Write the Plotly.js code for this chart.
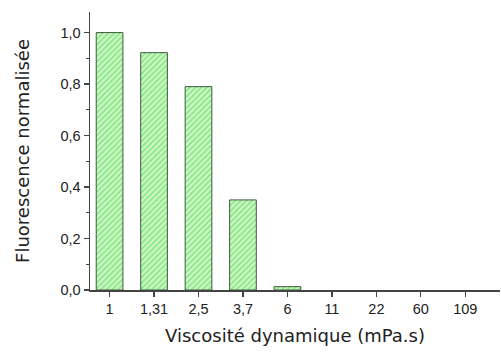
<!DOCTYPE html>
<html>
<head>
<meta charset="utf-8">
<script src="https://cdn.plot.ly/plotly-3.0.1.min.js"></script>
<style>html,body{margin:0;padding:0;background:#fff;}</style>
</head>
<body>
<div id="chart" style="width:501px;height:358px;"></div>
<script>
const categories = ["1", "1,31", "2,5", "3,7", "6", "11", "22", "60", "109"];
const fluorescence = [1.0, 0.922, 0.79, 0.35, 0.013, 0, 0, 0, 0];
const yTickVals = [0, 0.2, 0.4, 0.6, 0.8, 1.0];
const yTickText = ["0,0", "0,2", "0,4", "0,6", "0,8", "1,0"];

const trace = {
  type: "bar",
  x: categories,
  y: fluorescence,
  width: 0.6,
  marker: {
    color: "#c8f4bf",
    line: {color: "#3d5a3d", width: fluorescence.map(v => v > 0 ? 1 : 0)},
    pattern: {shape: "/", fgcolor: "#46d946", bgcolor: "#d4f8cc", size: 4, solidity: 0.5, fillmode: "overlay"}
  },
  hoverinfo: "skip"
};

const axisFont = {family: "Liberation Sans, Arial, sans-serif", size: 14.5, color: "#222"};
const titleFont = {family: "DejaVu Sans, Verdana, sans-serif", size: 18, color: "#222"};

const layout = {
  width: 501, height: 358,
  margin: {l: 90, r: 1, t: 12, b: 68},
  paper_bgcolor: "#fff", plot_bgcolor: "#fff",
  showlegend: false,
  xaxis: {
    type: "category",
    range: [-0.44, 8.78],
    showline: true, linecolor: "#444", linewidth: 1.5,
    ticks: "outside", ticklen: 5, tickcolor: "#444", tickwidth: 1.2,
    showgrid: false, zeroline: false,
    tickfont: axisFont,
    title: {text: "Viscosité dynamique (mPa.s)", font: titleFont, standoff: 13}
  },
  yaxis: {
    range: [0, 1.08],
    showline: true, linecolor: "#444", linewidth: 1.5,
    ticks: "outside", ticklen: 5, tickcolor: "#444", tickwidth: 1.2,
    tickvals: yTickVals, ticktext: yTickText,
    minor: {ticks: "outside", ticklen: 3, tickcolor: "#444", dtick: 0.1, tick0: 0},
    showgrid: false, zeroline: false,
    tickfont: axisFont,
    title: {text: "Fluorescence normalisée", font: titleFont, standoff: 26}
  }
};

Plotly.newPlot("chart", [trace], layout, {displayModeBar: false, staticPlot: true});
</script>
</body>
</html>
